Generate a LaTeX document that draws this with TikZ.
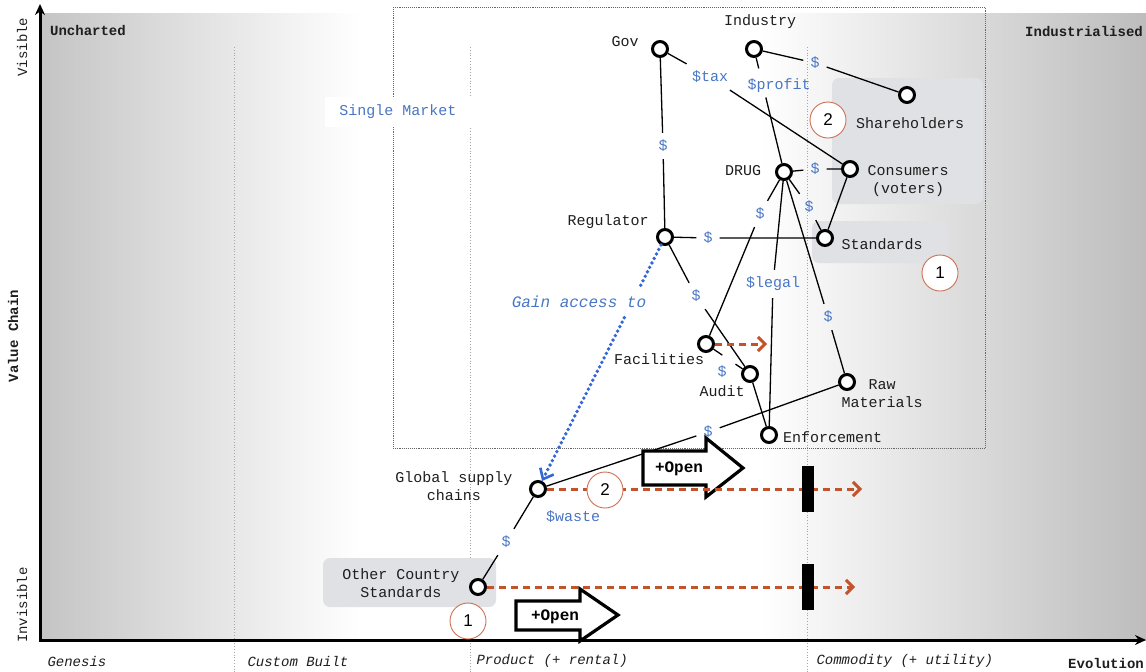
\documentclass[tikz,border=0pt]{standalone}
\usepackage{fontspec}
\setmainfont{Liberation Mono}
\newfontfamily\numfont{Liberation Sans}
\usetikzlibrary{calc,arrows.meta,positioning}
\definecolor{wardblue}{RGB}{72,118,196}
\definecolor{warddot}{RGB}{52,102,212}
\definecolor{wardred}{RGB}{196,82,42}
\definecolor{wardring}{RGB}{204,112,84}
\definecolor{wardbox}{RGB}{224,225,228}
\definecolor{wardtext}{RGB}{30,30,30}

\begin{document}
\begin{tikzpicture}[x=1pt,y=-1pt,
  comp/.style={circle,draw=black,fill=white,line width=3pt,minimum size=15pt,inner sep=0pt},
  txt/.style={font=\fontsize{15}{18}\selectfont,text=wardtext,align=center,inner sep=0pt},
  cash/.style={font=\fontsize{15}{18}\selectfont,text=wardblue,inner sep=7pt},
  link/.style={line width=1.3pt},
  access/.style={warddot,line width=3.8pt,line cap=round,dash pattern=on 0pt off 5pt},
  ring/.style={circle,draw=wardring,line width=0.9pt,fill=white,minimum size=36pt,inner sep=0pt,font=\numfont\fontsize{17}{17}\selectfont},
  move/.style={wardred,line width=3pt,dash pattern=on 7pt off 5pt,-{Straight Barb[length=7pt,width=14pt]}},
  zone/.style={fill=wardbox,rounded corners=7pt},
  stage/.style={anchor=west,text=wardtext,font=\itshape\fontsize{14}{14}\selectfont},
  heavy/.style={text=wardtext,font=\bfseries\fontsize{14}{14}\selectfont},
  openarrow/.style={draw=black,fill=white,line width=3.2pt,line join=miter},
  inertia/.style={fill=black}]
  \useasboundingbox (0,0) rectangle (1146,672);

  % background and stages
  \shade[left color=black!23,right color=white] (40,13) rectangle (360,640);
  \shade[left color=white,right color=black!26] (760,13) rectangle (1146,640);
  \foreach \x in {234,470,807} \draw[gray!70,dotted,line width=0.8pt] (\x,47) -- (\x,672);
  \draw[black!60,densely dotted,line width=0.9pt] (393,7) rectangle (985,448);
  \node[fill=white,minimum width=146pt,minimum height=30pt,font=\fontsize{15}{18}\selectfont,text=wardblue] (market) at (398,112) {Single Market};
  \fill[zone] (832,78) rectangle (983,204);
  \fill[zone] (812,221) rectangle (948,263);
  \fill[zone] (323,558) rectangle (496,607);

  % axes
  \draw[line width=3pt,-{Stealth[length=11pt,width=10pt]}] (40,641.5) -- (40,4);
  \draw[line width=3pt,-{Stealth[length=11pt,width=10pt]}] (38.5,640) -- (1146,640);
  \node[heavy] (uncharted) at (88,30) {Uncharted};
  \node[heavy] (industrial) at (1084,31) {Industrialised};
  \node[heavy,rotate=90] (chain) at (13,336) {Value Chain};
  \node[text=wardtext,rotate=90,font=\fontsize{14}{14}\selectfont] (visible) at (22,47) {Visible};
  \node[text=wardtext,rotate=90,font=\fontsize{14}{14}\selectfont] (invisible) at (22,605) {Invisible};
  \node[stage] (genesis) at (44,661) {Genesis};
  \node[stage] (custom) at (244,661) {Custom Built};
  \node[stage] (product) at (473,661) {Product (+ rental)};
  \node[stage] (commodity) at (813,661) {Commodity (+ utility)};
  \node[heavy] (evolution) at (1106,663) {Evolution};

  % components
  \node[comp] (gov) at (660,49) {};
  \node[comp] (ind) at (754,49) {};
  \node[comp] (share) at (907,95) {};
  \node[comp] (drug) at (784,172) {};
  \node[comp] (cons) at (850,169) {};
  \node[comp] (reg) at (665,237) {};
  \node[comp] (std) at (825,238) {};
  \node[comp] (fac) at (706,344) {};
  \node[comp] (aud) at (750,374) {};
  \node[comp] (raw) at (847,382) {};
  \node[comp] (enf) at (769,435) {};
  \node[comp] (gsc) at (538,489) {};
  \node[comp] (ocs) at (478,587) {};

  \node[txt] (gov-t) at (625,42) {Gov};
  \node[txt] (ind-t) at (760,22) {Industry};
  \node[txt] (share-t) at (910,123) {Shareholders};
  \node[txt] (cons-t) at (908,181) {Consumers\\(voters)};
  \node[txt] (drug-t) at (743,171) {DRUG};
  \node[txt] (reg-t) at (608,222) {Regulator};
  \node[txt] (std-t) at (882,244) {Standards};
  \node[txt] (fac-t) at (659,359) {Facilities};
  \node[txt] (aud-t) at (722,391) {Audit};
  \node[txt] (raw-t) at (882,394) {Raw\\Materials};
  \node[txt,anchor=west] (enf-t) at (783,437) {Enforcement};
  \node[txt] (gsc-t) at (454,486) {Global supply\\chains};
  \node[txt] (ocs-t) at (401,583) {Other Country\\Standards};

  % money flows
  \node[cash] (d1) at (663,146) {\$};
  \node[cash] (tax) at (710,77) {\$tax};
  \node[cash] (profit) at (779,86) {\$profit};
  \node[cash] (d2) at (815,63) {\$};
  \node[cash] (d3) at (815,169) {\$};
  \node[cash] (d4) at (809,207) {\$};
  \node[cash] (d5) at (760,214) {\$};
  \node[cash] (legal) at (773,284) {\$legal};
  \node[cash] (d6) at (828,317) {\$};
  \node[cash] (d7) at (708,238) {\$};
  \node[cash] (d8) at (696,296) {\$};
  \node[cash] (d9) at (722,372) {\$};
  \node[cash] (d10) at (708,432) {\$};
  \node[cash] (d11) at (506,542) {\$};
  \node[cash] (waste) at (573,517) {\$waste};

  \draw[link] (gov) -- (d1) -- (reg);
  \draw[link] (gov) -- (tax) -- (cons);
  \draw[link] (ind) -- (d2) -- (share);
  \draw[link] (drug) -- (d3) -- (cons);
  \draw[link] (drug) -- (d4) -- (std);
  \draw[link] (drug) -- (d5) -- (fac);
  \draw[link] (drug) -- (legal) -- (enf);
  \draw[link] (drug) -- (d6) -- (raw);
  \draw[link] (reg) -- (d7) -- (std);
  \draw[link] (reg) -- (d8) -- (aud);
  \draw[link] (raw) -- (d10) -- (gsc);
  \draw[link] (gsc) -- (d11) -- (ocs);
  \draw[link] (cons) -- (std);
  \draw[link] (aud) -- (enf);
  \coordinate (pf) at ($(ind)!0.3!(drug)$);
  \draw[link,shorten >=18pt] (ind) -- (pf);
  \draw[link,shorten <=12pt] (pf) -- (drug);
  \coordinate (fa) at ($(fac)!0.52!(aud)$);
  \draw[link,shorten >=8pt] (fac) -- (fa);
  \draw[link,shorten <=8pt] (fa) -- (aud);

  % gaining access
  \node[font=\itshape\fontsize{16}{16}\selectfont,text=wardblue] (gain) at (579,302) {Gain access to};
  \coordinate (ga) at ($(reg)!0.26!(gsc)$);
  \draw[access,shorten >=17pt] (reg) -- (ga);
  \draw[access,shorten <=17pt,-{Straight Barb[length=9pt,width=15pt,line width=2.6pt,line cap=butt]}] (ga) -- (gsc);

  % openness
  \draw[openarrow] (643,451) -- (706,451) -- (706,438) -- (743,468) -- (706,497) -- (706,485) -- (643,485) -- cycle;
  \node[font=\bfseries\fontsize{16}{16}\selectfont] (open-a) at (679,469) {+Open};
  \draw[openarrow] (516,601) -- (580,601) -- (580,589) -- (618,615) -- (580,641) -- (580,630) -- (516,630) -- cycle;
  \node[font=\bfseries\fontsize{16}{16}\selectfont] (open-b) at (555,617) {+Open};

  % movement
  \coordinate (fac-to) at (767,344);
  \coordinate (gsc-to) at (862,489);
  \coordinate (ocs-to) at (855,587);
  \draw[move] (fac) -- (fac-to);
  \draw[move] (gsc) -- (gsc-to);
  \draw[move] (ocs) -- (ocs-to);
  \fill[inertia] (802,466) rectangle (814,512);
  \fill[inertia] (802,564) rectangle (814,610);

  \node[ring] (two-a) at (828,120) {2};
  \node[ring] (one-a) at (940,273) {1};
  \node[ring] (two-b) at (605,490) {2};
  \node[ring] (one-b) at (468,621) {1};
\end{tikzpicture}
\end{document}
